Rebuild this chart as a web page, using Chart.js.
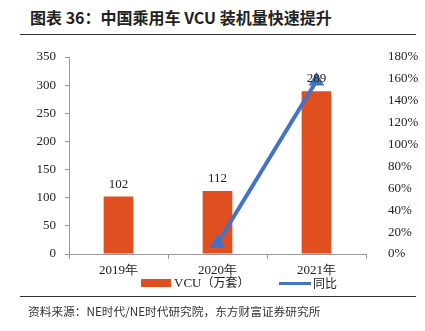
<!DOCTYPE html>
<html lang="zh">
<head>
  <meta charset="UTF-8">
  <title>中国乘用车 VCU 装机量快速提升</title>
  <script src="https://cdn.jsdelivr.net/npm/chart.js@4.4.0/dist/chart.umd.min.js"></script>
  <style>
    body { margin: 0; background: #fff; }
    .wrap { position: relative; width: 425px; height: 331px; overflow: hidden; }
    .title {
      position: absolute; left: 30px; top: 5px;
      font-family: 'Noto Sans CJK SC', sans-serif; font-weight: bold;
      font-size: 16px; color: #222;
    }
    .rule { position: absolute; left: 20px; width: 396px; height: 1px; background: #333; }
    .source {
      position: absolute; left: 28px; top: 302px;
      font-family: 'Noto Sans CJK SC', sans-serif; font-size: 11.7px; color: #333;
    }
    .legend {
      position: absolute; top: 275px; left: 141px;
      font-family: 'Liberation Serif', 'Noto Sans CJK SC', serif; font-size: 13px; color: #222;
    }
    .legend span { position: absolute; white-space: nowrap; }
    .legend .cjk { font-family: 'Noto Sans CJK SC', sans-serif; font-size: 12px; }
    canvas { position: absolute; left: 0; top: 0; }
  </style>
</head>
<body>
<div class="wrap">
  <div class="title">图表 36：中国乘用车 VCU 装机量快速提升</div>
  <div class="rule" style="top:34px"></div>
  <canvas id="chart" width="425" height="331"></canvas>
  <div class="legend">
    <span style="left:0;top:4px;width:30px;height:8px;background:#E04F1F"></span>
    <span style="left:33px;top:-2px">VCU<span class="cjk" style="position:static">（万套）</span></span>
    <span style="left:138px;top:7px;width:32px;height:3px;background:#4472C4"></span>
    <span class="cjk" style="left:172px;top:-1px">同比</span>
  </div>
  <div class="rule" style="top:296px"></div>
  <div class="source">资料来源：NE时代/NE时代研究院，东方财富证券研究所</div>
</div>

<script>
  const years = ['2019年', '2020年', '2021年'];
  const vcuVolume = [102, 112, 289];
  const yoyGrowth = [null, 9.8, 158];
  const leftTicks = [0, 50, 100, 150, 200, 250, 300, 350];
  const rightTicks = [0, 20, 40, 60, 80, 100, 120, 140, 160, 180];

  const tickFont = { family: "'Liberation Serif', 'Times New Roman', serif", size: 13 };

  // value labels above the bars (bar dataset is index 1)
  const barLabels = {
    id: 'barLabels',
    afterDatasetsDraw(chart) {
      const ctx = chart.ctx;
      const meta = chart.getDatasetMeta(1);
      ctx.save();
      ctx.font = "13px 'Liberation Serif', serif";
      ctx.fillStyle = '#222';
      ctx.textAlign = 'center';
      ctx.textBaseline = 'bottom';
      meta.data.forEach((bar, i) => {
        ctx.fillText(vcuVolume[i], bar.x, bar.y - 6);
      });
      ctx.restore();
    }
  };

  new Chart(document.getElementById('chart'), {
    data: {
      labels: years,
      datasets: [
        {
          type: 'line',
          label: '同比',
          data: yoyGrowth,
          yAxisID: 'y1',
          borderColor: '#4472C4',
          backgroundColor: '#4472C4',
          borderWidth: 4,
          pointStyle: 'triangle',
          pointRadius: 5,
          order: 0
        },
        {
          type: 'bar',
          label: 'VCU（万套）',
          data: vcuVolume,
          yAxisID: 'y',
          backgroundColor: '#E04F1F',
          categoryPercentage: 1,
          barPercentage: 0.3,
          order: 1
        }
      ]
    },
    options: {
      responsive: false,
      animation: false,
      layout: { padding: { top: 57, left: 0, right: 0, bottom: 0 } },
      plugins: { legend: { display: false }, tooltip: { enabled: false } },
      scales: {
        x: {
          offset: true,
          grid: { offset: true, drawOnChartArea: false, tickLength: 5, color: '#999' },
          border: { color: '#999' },
          ticks: { font: tickFont, color: '#222', padding: 4 },
          afterFit(s) { s.height = 77; }
        },
        y: {
          min: 0, max: 350,
          afterBuildTicks(s) { s.ticks = leftTicks.map(v => ({ value: v })); },
          grid: { drawOnChartArea: false, tickLength: 4, color: '#999' },
          border: { color: '#999' },
          ticks: { font: tickFont, color: '#222', padding: 9 },
          afterFit(s) { s.width = 69; }
        },
        y1: {
          position: 'right',
          min: 0, max: 180,
          afterBuildTicks(s) { s.ticks = rightTicks.map(v => ({ value: v })); },
          grid: { display: false },
          border: { display: false },
          ticks: { font: tickFont, color: '#222', padding: 14, callback: v => v + '%' },
          afterFit(s) { s.width = 59; }
        }
      }
    },
    plugins: [barLabels]
  });
</script>
</body>
</html>
